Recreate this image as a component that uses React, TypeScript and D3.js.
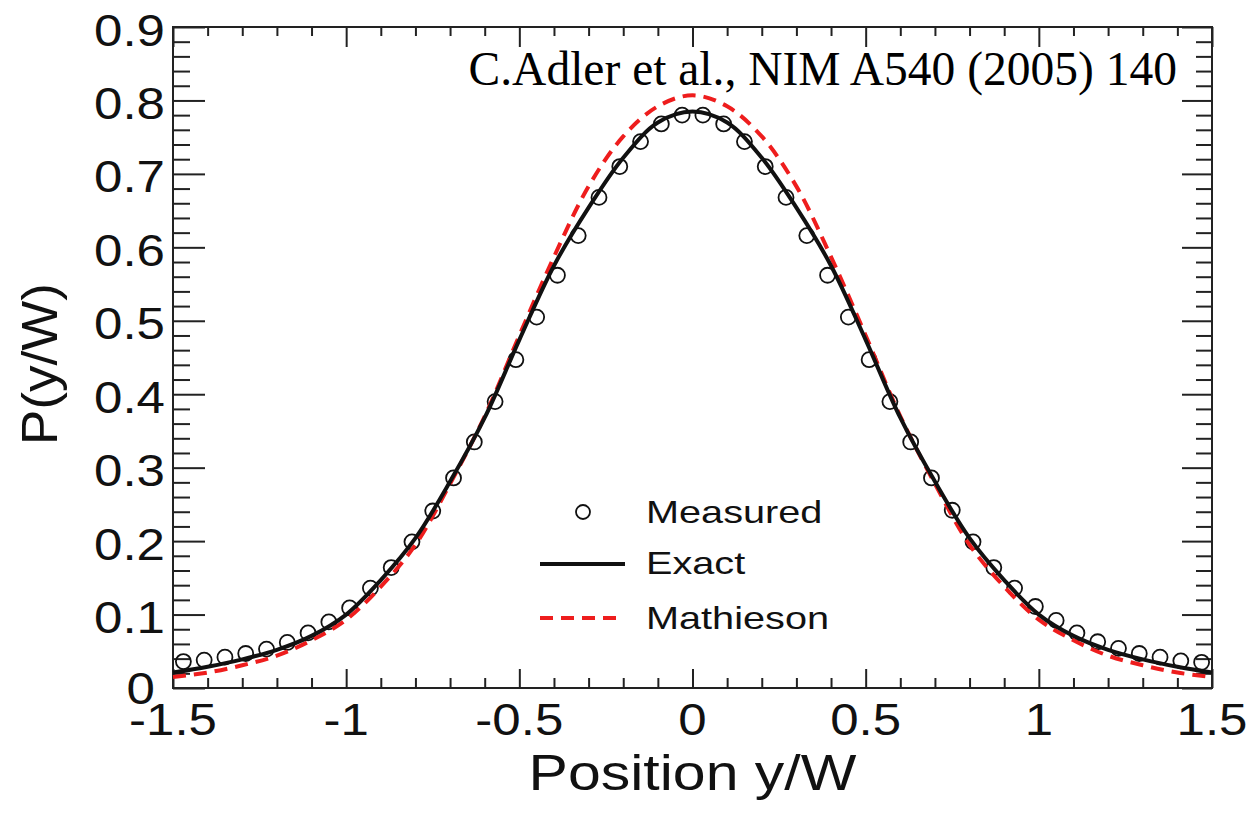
import * as d3 from 'd3'
import { useEffect, useRef } from 'react'

// measured points (position y/W, probability)
const measuredX = [
  -1.47, -1.41, -1.35, -1.29, -1.23, -1.17, -1.11, -1.05, -0.99, -0.93, -0.87, -0.81, -0.75,
  -0.69, -0.63, -0.57, -0.51, -0.45, -0.39, -0.33, -0.27, -0.21, -0.15, -0.09, -0.03,
  0.03, 0.09, 0.15, 0.21, 0.27, 0.33, 0.39, 0.45, 0.51, 0.57, 0.63, 0.69,
  0.75, 0.81, 0.87, 0.93, 0.99, 1.05, 1.11, 1.17, 1.23, 1.29, 1.35, 1.41, 1.47,
]
const measuredY = [
  0.036, 0.038, 0.042, 0.047, 0.053, 0.062, 0.075, 0.090, 0.109, 0.136, 0.164, 0.199, 0.241,
  0.286, 0.335, 0.390, 0.447, 0.505, 0.562, 0.616, 0.668, 0.710, 0.744, 0.768, 0.780,
  0.780, 0.768, 0.744, 0.710, 0.668, 0.616, 0.562, 0.505, 0.447, 0.390, 0.335, 0.286,
  0.242, 0.199, 0.164, 0.136, 0.111, 0.092, 0.075, 0.063, 0.054, 0.047, 0.042, 0.037, 0.035,
]

// curves
const curveX = [
  -1.5, -1.4, -1.3, -1.2, -1.1, -1.0, -0.9, -0.8, -0.7, -0.6, -0.5, -0.4, -0.3, -0.2, -0.1, 0,
  0.1, 0.2, 0.3, 0.4, 0.5, 0.6, 0.7, 0.8, 0.9, 1.0, 1.1, 1.2, 1.3, 1.4, 1.5,
]
const exactY = [
  0.021, 0.029, 0.039, 0.052, 0.071, 0.100, 0.147, 0.204, 0.281, 0.368, 0.474, 0.575, 0.654, 0.722, 0.770, 0.785,
  0.770, 0.722, 0.654, 0.575, 0.474, 0.368, 0.281, 0.204, 0.147, 0.100, 0.071, 0.052, 0.039, 0.029, 0.021,
]
const mathiesonY = [
  0.015, 0.021, 0.031, 0.044, 0.065, 0.093, 0.138, 0.195, 0.278, 0.370, 0.480, 0.587, 0.683, 0.751, 0.792, 0.807,
  0.792, 0.751, 0.683, 0.587, 0.480, 0.370, 0.278, 0.195, 0.138, 0.093, 0.065, 0.044, 0.031, 0.021, 0.015,
]

const xTickLabels = ['-1.5', '-1', '-0.5', '0', '0.5', '1', '1.5']
const yTickLabels = ['0', '0.1', '0.2', '0.3', '0.4', '0.5', '0.6', '0.7', '0.8', '0.9']

const RED = '#ee1d1d'
const SANS = '"Liberation Sans", Arial, Helvetica, sans-serif'

const App = () => {
  const ref = useRef<SVGSVGElement>(null)

  useEffect(() => {
    const svg = d3.select(ref.current)
    svg.selectAll('*').remove()

    const left = 173, right = 1212, top = 27, bottom = 688
    const x = d3.scaleLinear().domain([-1.5, 1.5]).range([left, right])
    const y = d3.scaleLinear().domain([0, 0.9]).range([bottom, top])

    const xMajor = xTickLabels.map(Number)
    const xMinor = d3.range(-15, 16).map(i => i / 10).filter(v => Math.abs(v * 2 - Math.round(v * 2)) > 1e-6)
    const yMajor = yTickLabels.map(Number)
    const yMinor = d3.range(0, 46).map(i => i / 50).filter(v => Math.abs(v * 10 - Math.round(v * 10)) > 1e-6)

    const axisColor = '#222'
    const addAxis = (axis: any, tx: number, ty: number) => {
      const g = svg.append('g').attr('transform', `translate(${tx},${ty})`).call(axis)
      g.select('.domain').remove()
      g.selectAll('line').attr('stroke', axisColor).attr('stroke-width', 2)
      g.selectAll('text').remove()
    }

    // ticks pointing inside on all four sides
    addAxis(d3.axisBottom(x).tickValues(xMajor).tickSizeInner(-19).tickSizeOuter(0), 0, bottom)
    addAxis(d3.axisBottom(x).tickValues(xMinor).tickSizeInner(-10).tickSizeOuter(0), 0, bottom)
    addAxis(d3.axisTop(x).tickValues(xMajor).tickSizeInner(-20).tickSizeOuter(0), 0, top)
    addAxis(d3.axisTop(x).tickValues(xMinor).tickSizeInner(-9).tickSizeOuter(0), 0, top)
    addAxis(d3.axisLeft(y).tickValues(yMajor).tickSizeInner(-32).tickSizeOuter(0), left, 0)
    addAxis(d3.axisLeft(y).tickValues(yMinor).tickSizeInner(-17).tickSizeOuter(0), left, 0)
    addAxis(d3.axisRight(y).tickValues(yMajor).tickSizeInner(-30).tickSizeOuter(0), right, 0)
    addAxis(d3.axisRight(y).tickValues(yMinor).tickSizeInner(-16).tickSizeOuter(0), right, 0)

    svg.append('rect')
      .attr('x', left).attr('y', top)
      .attr('width', right - left).attr('height', bottom - top)
      .attr('fill', 'none').attr('stroke', axisColor).attr('stroke-width', 2)

    // tick labels
    xTickLabels.forEach(t => {
      svg.append('text')
        .attr('transform', `translate(${x(+t)},735) scale(1.16,1)`)
        .attr('text-anchor', 'middle')
        .style('font-family', SANS).style('font-size', '44px').attr('fill', '#111')
        .text(t)
    })
    yTickLabels.forEach(t => {
      const ex = t === '0' ? 155 : 165
      const by = t === '0' ? y(+t) + 16 : y(+t) + 18.5
      svg.append('text')
        .attr('transform', `translate(${ex},${by}) scale(1.16,1)`)
        .attr('text-anchor', 'end')
        .style('font-family', SANS).style('font-size', '44px').attr('fill', '#111')
        .text(t)
    })

    // axis titles
    svg.append('text')
      .attr('transform', `translate(${x(0)},790) scale(1.18,1)`)
      .attr('text-anchor', 'middle')
      .style('font-family', SANS).style('font-size', '50px').attr('fill', '#111')
      .text('Position y/W')
    svg.append('text')
      .attr('transform', `translate(57,364) rotate(-90) scale(1.06,1)`)
      .attr('text-anchor', 'middle')
      .style('font-family', SANS).style('font-size', '50px').attr('fill', '#111')
      .text('P(y/W)')

    // reference
    svg.append('text')
      .attr('x', 1177).attr('y', 85)
      .attr('text-anchor', 'end')
      .style('font-family', '"Liberation Serif", "Times New Roman", serif')
      .style('font-size', '47.5px').attr('fill', '#000')
      .text('C.Adler et al., NIM A540 (2005) 140')

    // measured points
    svg.append('g')
      .selectAll('circle')
      .data(measuredX)
      .enter()
      .append('circle')
      .attr('cx', d => x(d))
      .attr('cy', (d, i) => y(measuredY[i]))
      .attr('r', 7.5)
      .attr('fill', 'none')
      .attr('stroke', '#111')
      .attr('stroke-width', 1.8)

    const line = d3.line<number>()
      .x(d => x(d))
      .curve(d3.curveCatmullRom.alpha(0.5))

    svg.append('path')
      .datum(curveX)
      .attr('fill', 'none')
      .attr('stroke', RED)
      .attr('stroke-width', 4)
      .attr('stroke-dasharray', '13,8')
      .attr('d', line.y((d, i) => y(mathiesonY[i])))

    svg.append('path')
      .datum(curveX)
      .attr('fill', 'none')
      .attr('stroke', '#111')
      .attr('stroke-width', 4)
      .attr('d', line.y((d, i) => y(exactY[i])))

    // legend
    const lg = svg.append('g').style('font-family', SANS).style('font-size', '32px')
    lg.append('circle').attr('cx', 583).attr('cy', 512).attr('r', 7)
      .attr('fill', 'none').attr('stroke', '#111').attr('stroke-width', 1.8)
    lg.append('line').attr('x1', 540).attr('x2', 625).attr('y1', 564).attr('y2', 564)
      .attr('stroke', '#111').attr('stroke-width', 4)
    lg.append('line').attr('x1', 540).attr('x2', 620).attr('y1', 618).attr('y2', 618)
      .attr('stroke', RED).attr('stroke-width', 4).attr('stroke-dasharray', '13,8')
    const entries = [['Measured', 523], ['Exact', 574], ['Mathieson', 629]] as const
    entries.forEach(([label, by]) => {
      lg.append('text')
        .attr('transform', `translate(646,${by}) scale(1.24,1)`)
        .attr('fill', '#111')
        .text(label)
    })
  }, [])

  return (
    <svg
      ref={ref}
      width={1252}
      height={813}
      style={{ position: 'absolute', left: 0, top: 0, background: '#fff' }}
    />
  )
}

export default App
